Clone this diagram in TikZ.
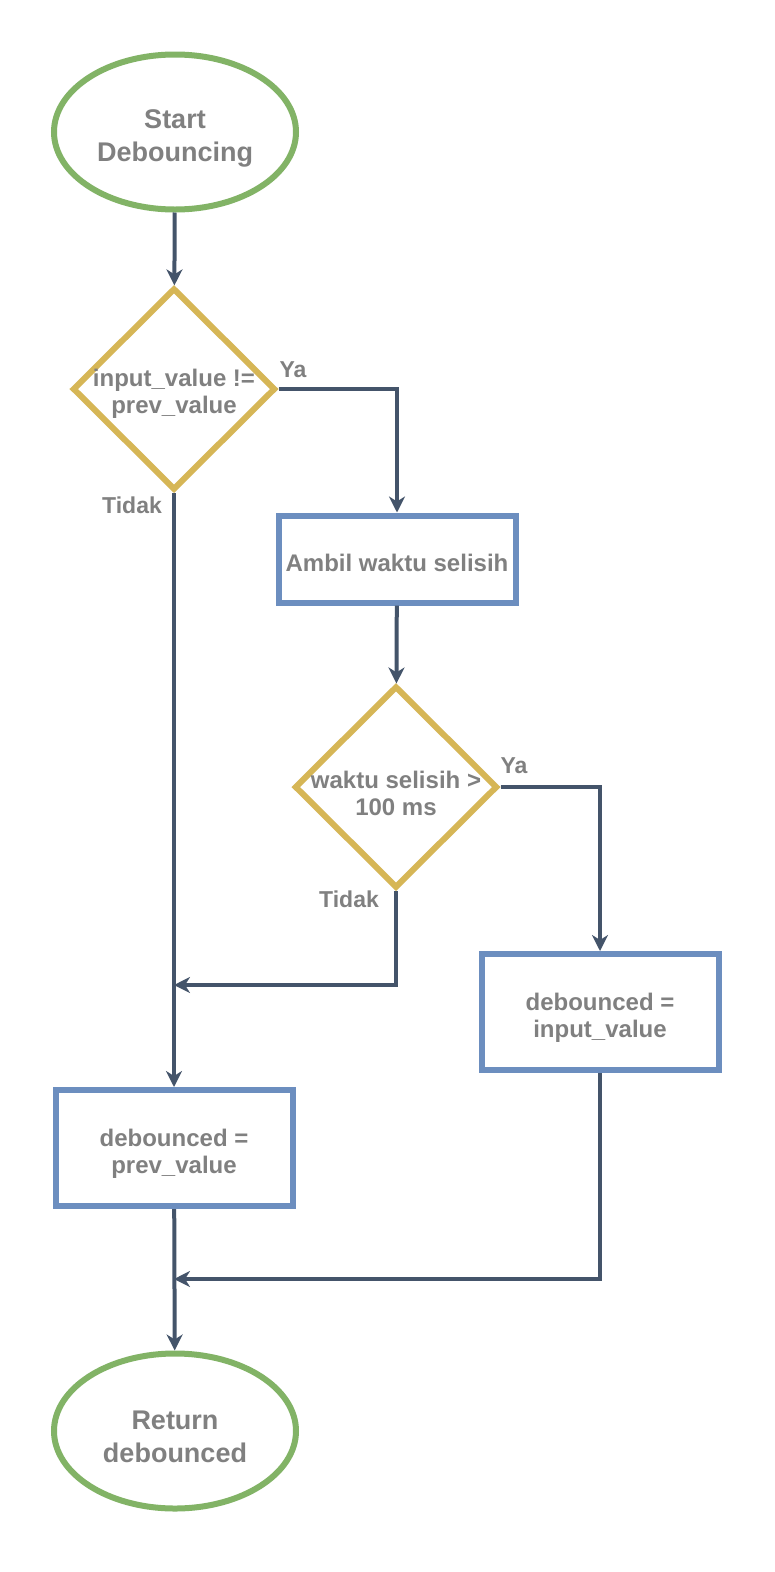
\documentclass[tikz,border=0pt]{standalone}
\usepackage{fontspec}
\setmainfont{Liberation Sans}
\usetikzlibrary{shapes.geometric,arrows.meta}
\definecolor{termgreen}{HTML}{82B366}
\definecolor{procblue}{HTML}{6C8EBF}
\definecolor{decyellow}{HTML}{D6B656}
\definecolor{linecol}{HTML}{44546A}
\definecolor{txtgray}{HTML}{808080}
\begin{document}
\begin{tikzpicture}[x=1pt,y=-1pt,
  term/.style={ellipse, draw=termgreen, line width=6pt, minimum width=242pt, minimum height=155pt, inner sep=0pt},
  proc/.style={rectangle, draw=procblue, line width=6pt, minimum width=237pt, inner sep=0pt},
  dec/.style={diamond, draw=decyellow, line width=6pt, minimum width=203pt, minimum height=202pt, inner sep=0pt},
  ttext/.style={font=\fontsize{27}{33}\selectfont\bfseries, text=txtgray, align=center},
  dtext/.style={font=\fontsize{24}{27}\selectfont\bfseries, text=txtgray, align=center},
  lbl/.style={font=\fontsize{23}{27}\selectfont\bfseries, text=txtgray},
  conn/.style={draw=linecol, line width=4pt, -{Stealth[length=16pt,width=16pt,inset=5pt]}}]
\useasboundingbox (0,0) rectangle (774,1572);
\fill[white] (0,0) rectangle (774,1572);

\node[term] (start) at (175,132) {};
\node[ttext] (startt) at (175,138) {Start\\Debouncing};
\node[dec] (d1) at (174,389) {};
\node[dtext] (d1t) at (174,394) {input\_value !=\\prev\_value};
\node[proc, minimum height=87pt] (ambil) at (397,559) {};
\node[dtext] (ambilt) at (397,563) {Ambil waktu selisih};
\node[dec] (d2) at (396,787) {};
\node[dtext] (d2t) at (396,793) {waktu selisih >\\100 ms};
\node[proc, minimum height=116pt] (setin) at (600,1012) {};
\node[dtext] (setint) at (600,1018) {debounced =\\input\_value};
\node[proc, minimum height=116pt] (setprev) at (174,1148) {};
\node[dtext] (setprevt) at (174,1154) {debounced =\\prev\_value};
\node[term] (ret) at (175,1431) {};
\node[ttext] (rett) at (175,1437) {Return\\debounced};

\coordinate (j1) at (174,985);
\coordinate (j2) at (174,1279);

\node[lbl] (ya1) at (293,370) {Ya};
\node[lbl] (tidak1) at (132,505) {Tidak};
\node[lbl] (ya2) at (514,766) {Ya};
\node[lbl] (tidak2) at (349,899) {Tidak};

\draw[conn] (start) -- (d1);
\draw[conn] (d1.east) -| (ambil.north);
\draw[conn] (ambil) -- (d2);
\draw[conn] (d2.east) -| (setin.north);
\draw[conn] (d2.south) |- (j1);
\draw[conn] (d1.south) -- (setprev.north);
\draw[conn] (setprev) -- (ret);
\draw[conn] (setin.south) |- (j2);
\end{tikzpicture}
\end{document}
